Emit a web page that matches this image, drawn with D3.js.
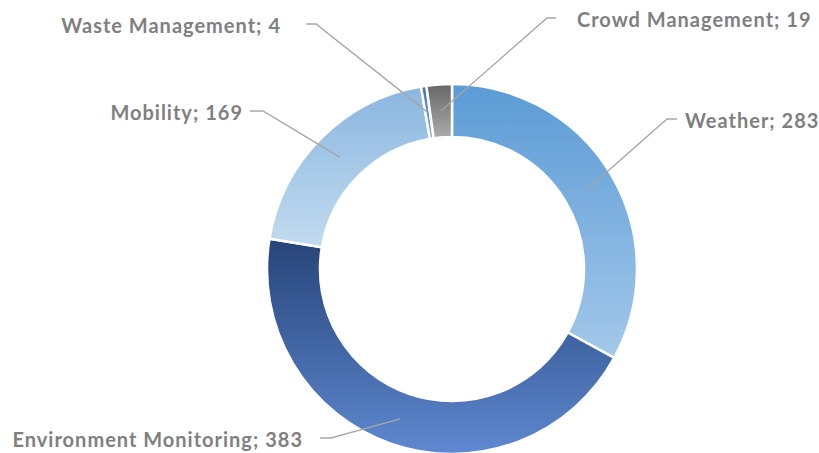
<!DOCTYPE html>
<html><head><meta charset="utf-8">
<script src="https://cdn.jsdelivr.net/npm/d3@7"></script>
<style>html,body{margin:0;padding:0;background:#fff;}svg{display:block;}</style>
</head><body>
<svg id="chart" width="819" height="453"></svg>
<script>
const categories = ["Weather", "Environment Monitoring", "Mobility", "Waste Management", "Crowd Management"];
const values = [283, 383, 169, 4, 19];

// per-slice vertical gradient colours (top, bottom)
const gradTop = ["#5b9bd5", "#264478", "#8ab6df", "#3f6fc0", "#666666"];
const gradBottom = ["#a4c8ea", "#5e88d0", "#c2dbf0", "#8eb3e3", "#acacac"];

// label placement: text anchor point, leader start x, elbow x
const labelLayout = [
  {x: 685, y: 128, anchor: "start", lx: 677, ex: 667},
  {x: 303, y: 447, anchor: "end", lx: 320, ex: 331},
  {x: 243, y: 120, anchor: "end", lx: 250, ex: 263},
  {x: 281, y: 33, anchor: "end", lx: 306, ex: 316},
  {x: 577, y: 27, anchor: "start", lx: 556, ex: 547}
];

const cx = 452, cy = 269, rOuter = 185, rInner = 132;
const svg = d3.select("#chart");
const defs = svg.append("defs");
categories.forEach((c, i) => {
  const g = defs.append("linearGradient").attr("id", "g" + i)
    .attr("x1", 0).attr("y1", 0).attr("x2", 0).attr("y2", 1);
  g.append("stop").attr("offset", "0%").attr("stop-color", gradTop[i]);
  g.append("stop").attr("offset", "100%").attr("stop-color", gradBottom[i]);
});

const data = categories.map((c, i) => ({name: c, value: values[i], i}));
const pie = d3.pie().value(d => d.value).sort(null).startAngle(0).endAngle(2 * Math.PI);
const arcs = pie(data);
const arc = d3.arc().innerRadius(rInner).outerRadius(rOuter);
const midArc = d3.arc().innerRadius((rInner + rOuter) / 2).outerRadius((rInner + rOuter) / 2);

const g = svg.append("g").attr("transform", `translate(${cx},${cy})`);
g.selectAll("path.slice").data(arcs).enter().append("path")
  .attr("class", "slice")
  .attr("d", arc)
  .attr("fill", d => `url(#g${d.data.i})`)
  .attr("stroke", "#fff").attr("stroke-width", 2.5).attr("stroke-linejoin", "round");

// leader lines
svg.selectAll("path.leader").data(arcs).enter().append("path")
  .attr("class", "leader")
  .attr("fill", "none").attr("stroke", "#a6a6a6").attr("stroke-width", 1.3)
  .attr("d", d => {
    const L = labelLayout[d.data.i];
    const c = midArc.centroid(d);
    const ly = L.y - 9;
    return `M${L.lx},${ly}L${L.ex},${ly}L${cx + c[0]},${cy + c[1]}`;
  });

svg.selectAll("text.lbl").data(arcs).enter().append("text")
  .attr("class", "lbl")
  .attr("x", d => labelLayout[d.data.i].x)
  .attr("y", d => labelLayout[d.data.i].y)
  .attr("text-anchor", d => labelLayout[d.data.i].anchor)
  .attr("font-family", "Lato, 'Open Sans', sans-serif")
  .attr("font-weight", "bold")
  .attr("font-size", 20)
  .attr("letter-spacing", 1)
  .attr("fill", "#7f7f7f")
  .text(d => `${d.data.name}; ${d.data.value}`);
</script>
</body></html>
